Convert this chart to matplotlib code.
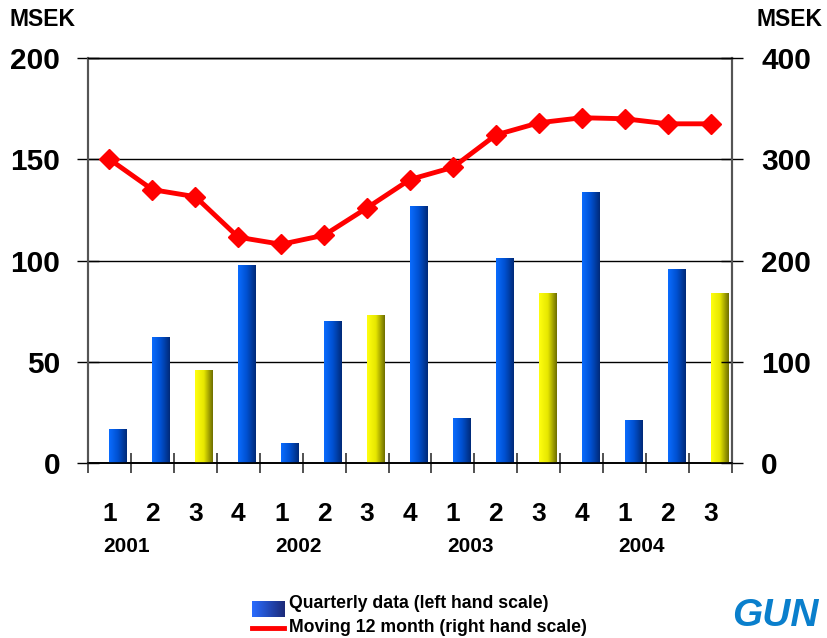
import matplotlib
matplotlib.use("Agg")
import matplotlib.pyplot as plt
import numpy as np
from matplotlib.colors import LinearSegmentedColormap
from matplotlib.lines import Line2D

plt.rcParams['font.family'] = ['Liberation Sans', 'DejaVu Sans']
plt.rcParams['font.weight'] = 'bold'

# quarterly result, MSEK (left scale)
quarters = ['1', '2', '3', '4', '1', '2', '3', '4', '1', '2', '3', '4', '1', '2', '3']
years = ['2001', '2002', '2003', '2004']
quarterly = [17, 62, 46, 98, 10, 70, 73, 127, 22, 101, 84, 134, 21, 96, 84]
# third quarters are shown in yellow
is_q3 = [q == '3' for q in quarters]
# moving 12 month, MSEK (right scale)
moving12 = [300, 270, 263, 223, 216, 225, 252, 280, 292, 324, 336, 341, 340, 335, 335]

left_ticks = [0, 50, 100, 150, 200]
right_ticks = [0, 100, 200, 300, 400]

blue_cmap = LinearSegmentedColormap.from_list('blue', ['#0a6cff', '#0050d0', '#002a78'])
yellow_cmap = LinearSegmentedColormap.from_list('yellow', ['#ffff10', '#e6e600', '#6e6e00'])
grad = np.linspace(0, 1, 64).reshape(1, -1)

W, H = 828, 638
fig = plt.figure(figsize=(W / 100, H / 100), dpi=100)
ax = fig.add_axes((88 / W, 1 - 463 / H, (732 - 88) / W, (463 - 58) / H))
ax2 = ax.twinx()

n = len(quarterly)
x = np.arange(n)
bars = ax.bar(x, quarterly, width=0.4, align='edge', color='none', edgecolor='none', zorder=3)
for b, q3 in zip(bars, is_q3):
    x0, y0 = b.get_x(), b.get_y()
    im = ax.imshow(grad, cmap=yellow_cmap if q3 else blue_cmap, aspect='auto',
                   extent=(x0, x0 + b.get_width(), y0, y0 + b.get_height()), zorder=3)
    im.set_clip_path(b)

ax.set_xlim(-0.5, n - 0.5)
ax.set_ylim(0, 200)
ax2.set_ylim(0, 400)

ax.set_yticks(left_ticks)
ax.set_yticklabels([str(v) for v in left_ticks], fontsize=21.5, fontweight='bold')
ax2.set_yticks(right_ticks)
ax2.set_yticklabels([str(v) for v in right_ticks], fontsize=21.5, fontweight='bold')
ax.yaxis.grid(True, color='black', linewidth=1)
ax.set_axisbelow(True)
ax.tick_params(axis='y', direction='inout', length=16, width=1, pad=12, color='black')
ax2.tick_params(axis='y', direction='inout', length=16, width=1, pad=13, color='black')

ax.set_xticks(x)
ax.set_xticklabels(quarters, fontsize=19, fontweight='bold')
ax.set_xticks(np.arange(-0.5, n), minor=True)
ax.tick_params(axis='x', which='major', length=0, pad=28)
ax.tick_params(axis='x', which='minor', direction='inout', length=15, width=1.2, color='#333333')

for i, yr in enumerate(years):
    ax.text(i * 4 + 0.4, -0.205, yr, transform=ax.get_xaxis_transform(),
            ha='center', va='center', fontsize=15, fontweight='bold')

for a in (ax, ax2):
    a.spines['left'].set_color('#555555')
    a.spines['right'].set_color('#555555')
    a.spines['left'].set_linewidth(1.5)
    a.spines['right'].set_linewidth(1.5)
    a.spines['top'].set_linewidth(1)
    a.spines['bottom'].set_linewidth(1.2)

ax2.plot(x, moving12, color='#ff0000', linewidth=3.5, marker='D', markersize=10, zorder=4)

fig.text(10 / W, 1 - 20 / H, 'MSEK', fontsize=16.5, fontweight='bold', va='center', ha='left')
fig.text(757 / W, 1 - 20 / H, 'MSEK', fontsize=16.5, fontweight='bold', va='center', ha='left')

# legend
leg_ax = fig.add_axes((252 / W, 1 - 617 / H, 32 / W, 16 / H))
leg_ax.imshow(grad, cmap=LinearSegmentedColormap.from_list('leg', ['#2a6cff', '#1c2a78']), aspect='auto')
leg_ax.set_axis_off()
fig.add_artist(Line2D([252 / W, 284 / W], [1 - 628 / H, 1 - 628 / H], color='#ff0000', linewidth=3.5))
fig.text(289 / W, 1 - 604 / H, 'Quarterly data (left hand scale)', fontsize=12.7, fontweight='bold', va='center')
fig.text(289 / W, 1 - 627 / H, 'Moving 12 month (right hand scale)', fontsize=12.7, fontweight='bold', va='center')

fig.text(732 / W, 1 - 616 / H, 'GUN', fontsize=28, fontweight='bold', fontstyle='italic',
         color='#0a7fcc', va='center', ha='left')

fig.savefig('out.png', dpi=100)
